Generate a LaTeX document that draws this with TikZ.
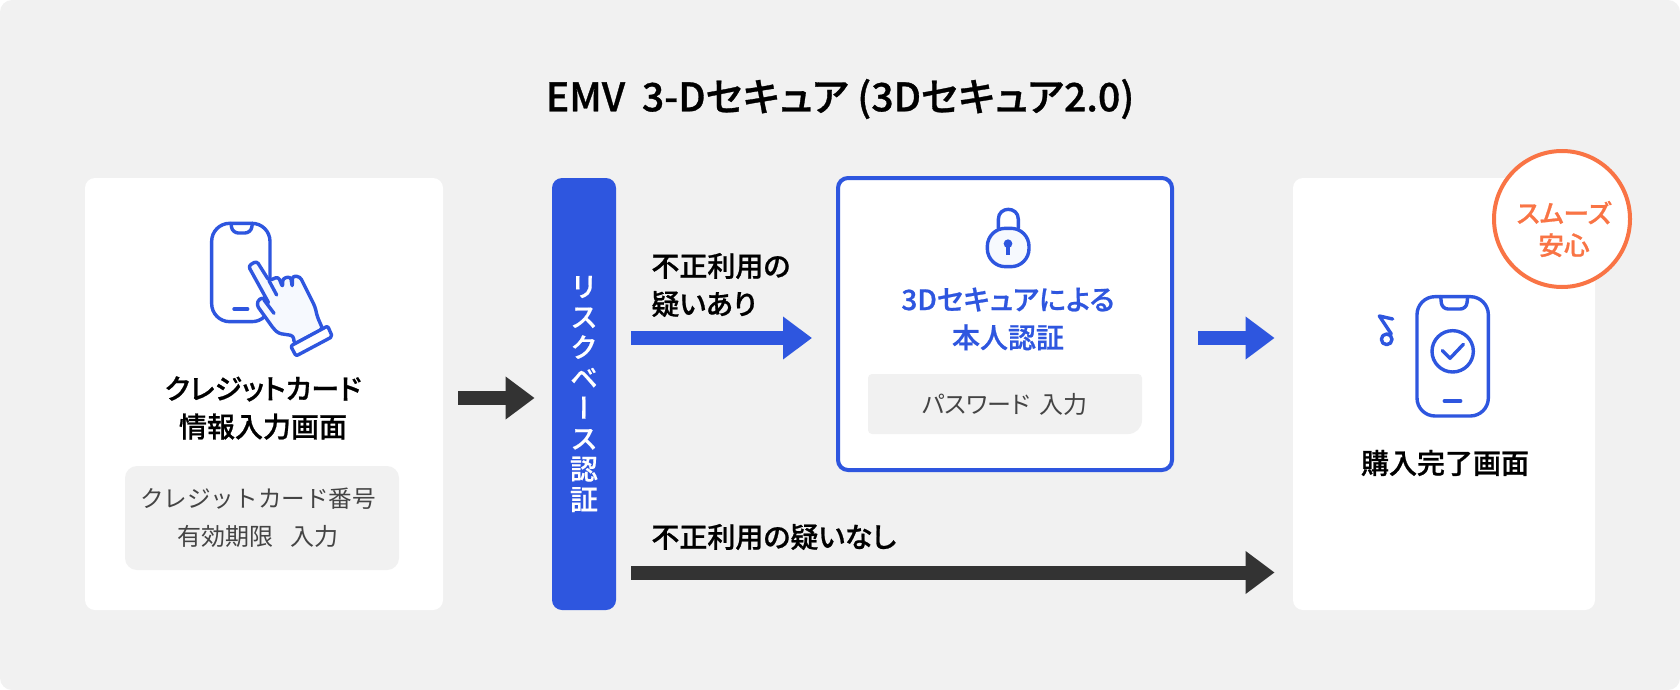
\documentclass[tikz,border=0pt]{standalone}
\usepackage{fontspec}
\setmainfont[RawFeature={+palt}]{Noto Sans CJK JP}
\newfontfamily\plainfont{Noto Sans CJK JP}
\newfontfamily\mediumfont[RawFeature={+palt}, FakeBold=0.8]{Noto Sans CJK JP Medium}
\newfontfamily\vertfont[RawFeature={+vert}, FakeBold=0.4]{Noto Sans CJK JP Medium}
\usetikzlibrary{arrows.meta}

\definecolor{pageback}{HTML}{F1F1F1}
\definecolor{brandblue}{HTML}{2E56DF}
\definecolor{darkarrow}{HTML}{333333}
\definecolor{softgrey}{HTML}{444444}
\definecolor{badgeorange}{HTML}{F97445}
\definecolor{paleblue}{HTML}{F6F9FE}

\tikzset{
	card/.style={rectangle, fill=white, rounded corners=5pt, inner sep=0pt},
	greybox/.style={rectangle, fill=pageback, rounded corners=6pt, inner sep=0pt},
	cardtitle/.style={inner sep=0pt, align=center, font=\mediumfont\fontsize{14pt}{19pt}\selectfont},
	greytext/.style={inner sep=0pt, align=center, text=softgrey, font=\fontsize{12pt}{19pt}\selectfont},
	blockarrow/.style={line width=7pt, -{Triangle[length=14.5pt,width=20.5pt]}},
	iconline/.style={draw=brandblue, line width=1.7pt, line join=round, line cap=round},
}

\begin{document}
\begin{tikzpicture}[x=0.5pt, y=-0.5pt]

	\useasboundingbox (0,0) rectangle (1680,690);
	\fill[pageback, rounded corners=6pt] (0,0) rectangle (1680,690);

	% heading
	\node[inner sep=0pt, font=\mediumfont\fontsize{19.6pt}{24pt}\selectfont] (heading) at (840,99) {EMV\hspace{4pt} 3-Dセキュア (3Dセキュア2.0)};

	% the boxes first...
	\node[card, minimum width=179pt, minimum height=216pt] (inputcard) at (264,394) {};
	\node[card, fill=brandblue, minimum width=32pt, minimum height=216pt] (riskbar) at (584,394) {};
	\node[card, draw=brandblue, line width=2pt, minimum width=167pt, minimum height=146pt] (authcard) at (1005,324) {};
	\node[card, minimum width=151pt, minimum height=216pt] (donecard) at (1444,394) {};
	\node[circle, draw=badgeorange, fill=white, line width=2pt, minimum size=68pt, inner sep=0pt] (badge) at (1562,219) {};

	% grey input boxes
	\node[greybox, minimum width=137pt, minimum height=52pt] (inputgrey) at (262,518) {};
	\fill[pageback] (868,404) [rounded corners=2pt] -- (868,374) -- (1142,374) -- (1142,404) [rounded corners=7pt] -- (1142,434) -- (1005,434) [rounded corners=2pt] -- (868,434) -- cycle;

	% nodes with labels
	\node[cardtitle] (inputtitle) at (263,408) {クレジットカード\\情報入力画面};
	\node[greytext] (inputtext) at (258,518) {{\plainfont\fontsize{11.8pt}{19pt}\selectfont クレジットカード番号}\\有効期限\hspace{6pt} 入力};
	\node[cardtitle, text=brandblue] (authtitle) at (1008,319) {3Dセキュアによる\\本人認証};
	\node[greytext] (authtext) at (1005,404) {パスワード\hspace{2pt} 入力};
	\node[cardtitle] (donetitle) at (1445,463) {購入完了画面};
	\node[inner sep=0pt, align=center, text=badgeorange, font=\mediumfont\fontsize{12.8pt}{16pt}\selectfont] (badgetext) at (1564,229) {スムーズ\\安心};
	\node[inner sep=0pt, align=center, text=white, font=\vertfont\fontsize{14pt}{15.2pt}\selectfont] (risktext) at (584,394) {リ\\ス\\ク\\ベ\\ー\\ス\\認\\証};
	\node[cardtitle, anchor=west, align=left] (yeslabel) at (651,285) {不正利用の\\疑いあり};
	\node[cardtitle, anchor=west] (nolabel) at (651,537) {不正利用の疑いなし};

	% arrows between the boxes
	\draw[blockarrow, darkarrow] ([shift={(15,4)}]inputcard.east) -- ([shift={(-17,4)}]riskbar.west);
	\draw[blockarrow, brandblue] ([shift={(15,-56)}]riskbar.east) -- ([shift={(-24,14)}]authcard.west);
	\draw[blockarrow, brandblue] ([shift={(24,14)}]authcard.east) -- ([shift={(-18,-56)}]donecard.west);
	\draw[blockarrow, darkarrow] ([shift={(15,178.5)}]riskbar.east) -- ([shift={(-18,178.5)}]donecard.west);

	% phone with the hand, in zoomed coordinates
	\begin{scope}[shift={(60,160)}, scale=1/3]
		\draw[iconline, rounded corners=9pt] (455,190) rectangle (630,485);
		\draw[iconline, rounded corners=3pt] (513,190) -- (517,219) -- (573,219) -- (577,190);
		\draw[iconline] (522,447) -- (563,447);
		\draw[iconline, fill=paleblue, rounded corners=1.5pt] (565,318) -- (590,303) -- (627,362) -- (655,350) -- (668,382) -- (668,355) -- (692,350) -- (697,382) -- (697,348) -- (720,350) -- (765,440) -- (772,470) -- (788,507) -- (703,552) -- (700,527) -- (655,520) -- (640,505) -- (590,435) -- (598,415) -- (614,415) -- (628,432) -- cycle;
		\draw[iconline] (627,362) -- (650,405);
		\draw[iconline] (612,420) -- (642,460);
		\draw[iconline, fill=white, rounded corners=1pt] (692,558) -- (803,498) -- (817,530) -- (708,588) -- cycle;
	\end{scope}

	% the padlock
	\begin{scope}[shift={(800,160)}, scale=1/3]
		\draw[iconline] (595,205) -- (595,178) .. controls (595,138) and (655,138) .. (655,178) -- (655,205);
		\draw[iconline, fill=paleblue, rounded corners=9pt] (562,205) rectangle (687,320);
		\fill[brandblue] (624,251) circle (13);
		\fill[brandblue] (617,251) rectangle (631,285);
	\end{scope}

	% phone with the tick and the note
	\begin{scope}[shift={(1270,130)}, scale=1/3]
		\draw[iconline, rounded corners=9pt] (441,500) rectangle (655,858);
		\draw[iconline, rounded corners=3pt] (512,500) -- (516,537) -- (589,537) -- (593,500);
		\draw[iconline] (548,664) circle (62);
		\draw[iconline] (517,662) -- (540,685) -- (580,643);
		\draw[iconline] (523,813) -- (572,813);
		\draw[iconline] (368,567) -- (328,558) -- (364,612);
		\draw[iconline] (350,628) circle (16);
	\end{scope}

\end{tikzpicture}
\end{document}
